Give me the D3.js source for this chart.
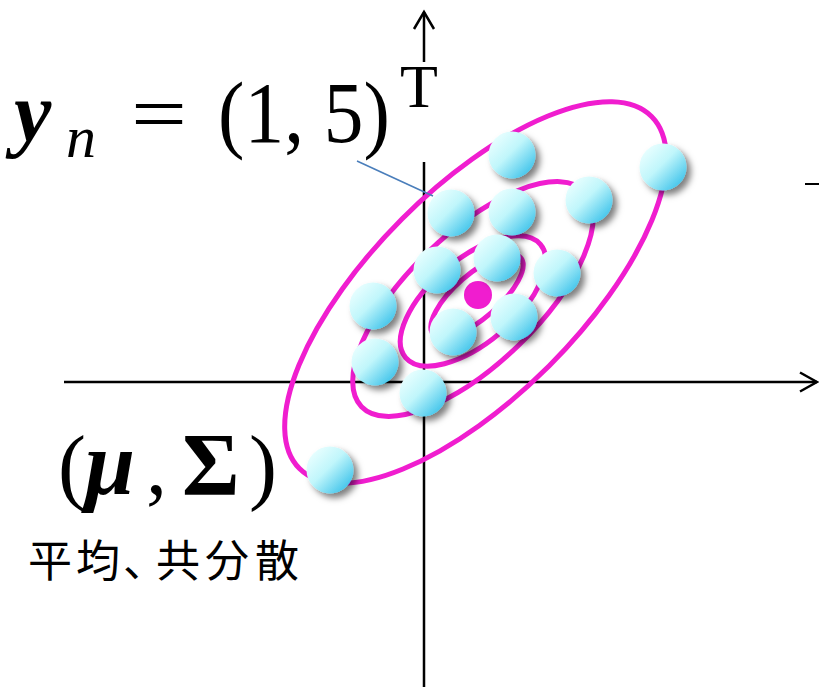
<!DOCTYPE html>
<html>
<head>
<meta charset="utf-8">
<script src="https://cdn.jsdelivr.net/npm/d3@7"></script>
<style>
  html, body { margin: 0; padding: 0; background: #fff; }
  svg { display: block; }
</style>
</head>
<body>
<div id="chart"></div>
<script>
const w = 819, h = 687;
// plot units: origin where the two axes cross
const xDomain = [-9, 9.85];
const yDomain = [-7.625, 9.275];

// sample points y_n
const pointsX = [2.2, 5.975, 0.675, 2.2, 4.125, 0.325, 1.825, 3.325, -1.275, 0.725, 2.25, -1.225, -0.025, -2.35];
const pointsY = [5.675, 5.375, 4.225, 4.25, 4.55, 2.8, 3.1, 2.725, 1.9, 1.25, 1.625, 0.5, -0.275, -2.2];

// mean
const meanX = 1.35, meanY = 2.175;

// covariance contours: centre, semi axes, tilt (deg)
const contourCx = [1.2875, 1.225, 1.225, 1.325];
const contourCy = [2.2375, 2.075, 2.025, 2.15];
const contourA = [6.225, 3.875, 2.2, 1.45];
const contourB = [2.6, 1.625, 1.05, 0.55];
const contourAngle = [45, 44, 40, 41];

// leader line from the label to the point
const leaderX = [-1.675, 0.225];
const leaderY = [5.525, 4.65];
const edgeTickY = 4.95;

const magenta = "#f01dcf";

const x = d3.scaleLinear().domain(xDomain).range([64, 818]);
const y = d3.scaleLinear().domain(yDomain).range([h, 11]);
const k = x(1) - x(0);

const svg = d3.select("#chart").append("svg").attr("width", w).attr("height", h);

const defs = svg.append("defs");
const grad = defs.append("linearGradient").attr("id", "ball")
  .attr("x1", 0.1).attr("y1", 0.1).attr("x2", 0.9).attr("y2", 0.9);
grad.append("stop").attr("offset", 0).attr("stop-color", "#ebffff");
grad.append("stop").attr("offset", 0.45).attr("stop-color", "#c0f6fb");
grad.append("stop").attr("offset", 1).attr("stop-color", "#3cc2ea");
const shadow = defs.append("filter").attr("id", "shadow")
  .attr("x", "-50%").attr("y", "-50%").attr("width", "200%").attr("height", "200%");
shadow.append("feDropShadow").attr("dx", 4.5).attr("dy", 4.5).attr("stdDeviation", 3)
  .attr("flood-color", "#000").attr("flood-opacity", 0.5);

// axes
const axes = svg.append("g").attr("stroke", "#000").attr("stroke-width", 2.5).attr("fill", "none");
axes.append("line")
  .attr("x1", x(xDomain[0])).attr("x2", x(9.825))
  .attr("y1", y(0)).attr("y2", y(0));
axes.append("path")
  .attr("d", `M${x(9.825) - 17},${y(0) - 9.5}L${x(9.825)},${y(0)}L${x(9.825) - 17},${y(0) + 9.5}`);
axes.append("line")
  .attr("x1", x(0)).attr("x2", x(0))
  .attr("y1", y(yDomain[0])).attr("y2", y(9.25));
axes.append("path")
  .attr("d", `M${x(0) - 10},${y(9.25) + 17}L${x(0)},${y(9.25)}L${x(0) + 10},${y(9.25) + 17}`);
axes.append("line")
  .attr("x1", x(9.525)).attr("x2", w)
  .attr("y1", y(edgeTickY)).attr("y2", y(edgeTickY)).attr("stroke-width", 2);

// label background hides the axis behind the formula
svg.append("rect").attr("x", 0).attr("y", 62).attr("width", 446).attr("height", 100).attr("fill", "#fff");

// contours
svg.append("g")
  .selectAll("ellipse")
  .data(d3.range(contourA.length))
  .join("ellipse")
  .attr("cx", (i) => x(contourCx[i]))
  .attr("cy", (i) => y(contourCy[i]))
  .attr("rx", (i) => contourA[i] * k)
  .attr("ry", (i) => contourB[i] * k)
  .attr("transform", (i) => `rotate(${-contourAngle[i]},${x(contourCx[i])},${y(contourCy[i])})`)
  .attr("fill", "none")
  .attr("stroke", magenta)
  .attr("stroke-width", 5);

// leader line
svg.append("line")
  .attr("x1", x(leaderX[0])).attr("y1", y(leaderY[0]))
  .attr("x2", x(leaderX[1])).attr("y2", y(leaderY[1]))
  .attr("stroke", "#4a7ebb").attr("stroke-width", 1.6);

// mean
svg.append("circle").attr("cx", x(meanX)).attr("cy", y(meanY)).attr("r", 14).attr("fill", magenta);

// points
svg.append("g")
  .selectAll("circle")
  .data(d3.range(pointsX.length))
  .join("circle")
  .attr("cx", (i) => x(pointsX[i]))
  .attr("cy", (i) => y(pointsY[i]))
  .attr("r", 23.5)
  .attr("fill", "url(#ball)")
  .attr("filter", "url(#shadow)");

// formula y_n = (1,5)^T
const serif = "'Liberation Serif', 'Times New Roman', serif";
const f1 = svg.append("g").attr("font-family", serif).attr("fill", "#000");
f1.append("text").attr("x", 14).attr("y", 141).attr("font-size", 84)
  .attr("font-weight", "bold").attr("font-style", "italic").text("y");
f1.append("text").attr("x", 66).attr("y", 157).attr("font-size", 60)
  .attr("font-style", "italic").text("n");
f1.append("text").attr("x", 131).attr("y", 141).attr("font-size", 80)
  .attr("textLength", 56).attr("lengthAdjust", "spacingAndGlyphs").text("=");
f1.append("text").attr("x", 218).attr("y", 142).attr("font-size", 86)
  .attr("textLength", 172).attr("lengthAdjust", "spacingAndGlyphs").text("(1, 5)");
f1.append("text").attr("x", 400).attr("y", 107).attr("font-size", 62).text("T");

// (mu, Sigma)
const f2 = svg.append("g").attr("font-family", serif).attr("fill", "#000").attr("font-size", 84);
f2.append("text").attr("x", 58).attr("y", 494).text("(");
f2.append("text").attr("x", 85).attr("y", 494).attr("font-size", 90).attr("font-weight", "bold").attr("font-style", "italic").text("μ");
f2.append("text").attr("x", 146).attr("y", 494).text(",");
f2.append("text").attr("x", 182).attr("y", 494).attr("font-size", 88).attr("font-weight", "bold").text("Σ");
f2.append("text").attr("x", 249).attr("y", 494).text(")");

// caption
svg.append("text")
  .attr("x", [28, 76, 123, 156, 205, 255].join(" "))
  .attr("y", 577)
  .attr("font-family", "'Noto Sans CJK JP', 'Noto Sans CJK SC', sans-serif")
  .attr("font-size", 44)
  .attr("fill", "#000")
  .text("平均、共分散");
</script>
</body>
</html>
